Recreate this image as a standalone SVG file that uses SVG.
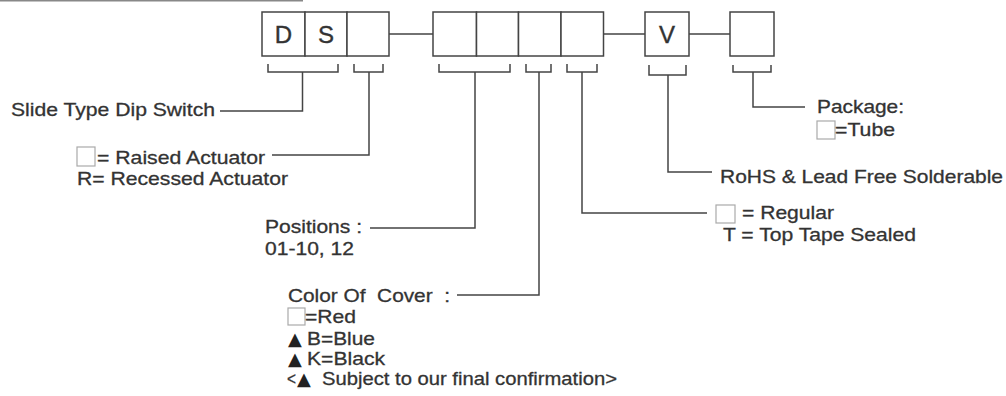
<svg xmlns="http://www.w3.org/2000/svg" width="1006" height="396" viewBox="0 0 1006 396">
<style>
.t{font-family:"Liberation Sans",Arial,sans-serif;font-size:18.5px;fill:#333;stroke:#333;stroke-width:0.3}
.big{font-family:"Liberation Sans",Arial,sans-serif;font-size:24px;fill:#333;stroke:#333;stroke-width:0.4;text-anchor:middle}
.tri{font-family:"DejaVu Sans",sans-serif;font-size:18px;fill:#222}
.box{fill:#fff;stroke:#444;stroke-width:1.5}
.ln{fill:none;stroke:#444;stroke-width:1.5}
.sq{fill:#fff;stroke:#aaa;stroke-width:1.2}
</style>
<rect width="1006" height="396" fill="#fff"/>
<rect x="0" y="0" width="303" height="1.5" fill="#888"/>
<g id="connectors">
<path class="ln" d="M389,34H433M603.5,34H645M689,34H730"/>
<path class="ln" d="M268,64V72H338V64M302.5,72V111H220"/>
<path class="ln" d="M354,64V72H383V64M369,72V155H272"/>
<path class="ln" d="M439,64V72H510V64M475,72V228H370"/>
<path class="ln" d="M526,64V72H551V64M539,72V295H457"/>
<path class="ln" d="M567,64V72H597V64M582,72V213H707"/>
<path class="ln" d="M649,65V75H686V65M668,75V172H712"/>
<path class="ln" d="M733,65V72H771V65M753,72V107H805"/>
</g>
<g id="box-D"><rect class="box" x="262" y="12" width="43" height="44"/><text class="big" x="283.5" y="43">D</text></g>
<g id="box-S"><rect class="box" x="305" y="12" width="42" height="44"/><text class="big" x="326" y="43">S</text></g>
<g id="box-actuator"><rect class="box" x="347" y="12" width="42" height="44"/></g>
<g id="box-pos1"><rect class="box" x="433" y="12" width="43.5" height="44"/></g>
<g id="box-pos2"><rect class="box" x="476.5" y="12" width="42" height="44"/></g>
<g id="box-color"><rect class="box" x="518.5" y="12" width="42.5" height="44"/></g>
<g id="box-seal"><rect class="box" x="561" y="12" width="42.5" height="44"/></g>
<g id="box-V"><rect class="box" x="645" y="12" width="44" height="44"/><text class="big" x="667" y="43">V</text></g>
<g id="box-package"><rect class="box" x="730" y="12" width="44" height="44"/></g>
<g id="label-slide"><text class="t" x="11" y="116" textLength="204" lengthAdjust="spacingAndGlyphs">Slide Type Dip Switch</text></g>
<g id="label-actuator">
<rect class="sq" x="77" y="147" width="18" height="19"/>
<text class="t" x="97" y="164" textLength="168" lengthAdjust="spacingAndGlyphs">= Raised Actuator</text>
<text class="t" x="77" y="185" textLength="211" lengthAdjust="spacingAndGlyphs">R= Recessed Actuator</text>
</g>
<g id="label-positions">
<text class="t" x="265" y="233" textLength="97" lengthAdjust="spacingAndGlyphs">Positions :</text>
<text class="t" x="265" y="255" textLength="89" lengthAdjust="spacingAndGlyphs">01-10, 12</text>
</g>
<g id="label-color">
<text class="t" x="288" y="302" xml:space="preserve" textLength="162" lengthAdjust="spacingAndGlyphs">Color Of  Cover  :</text>
<rect class="sq" x="288" y="308" width="17" height="17"/>
<text class="t" x="305" y="323" textLength="51" lengthAdjust="spacingAndGlyphs">=Red</text>
<text class="tri" x="288" y="345">▲</text>
<text class="t" x="307" y="345" textLength="68" lengthAdjust="spacingAndGlyphs">B=Blue</text>
<text class="tri" x="288" y="365">▲</text>
<text class="t" x="307" y="365" textLength="78" lengthAdjust="spacingAndGlyphs">K=Black</text>
<text class="t" x="287" y="385" textLength="9" lengthAdjust="spacingAndGlyphs">&lt;</text>
<text class="tri" x="297" y="385">▲</text>
<text class="t" x="322" y="385" textLength="295" lengthAdjust="spacingAndGlyphs">Subject to our final confirmation&gt;</text>
</g>
<g id="label-seal">
<rect class="sq" x="716" y="205" width="19" height="18"/>
<text class="t" x="742" y="219" textLength="92" lengthAdjust="spacingAndGlyphs">= Regular</text>
<text class="t" x="723" y="241" textLength="193" lengthAdjust="spacingAndGlyphs">T = Top Tape Sealed</text>
</g>
<g id="label-rohs"><text class="t" x="720" y="183" textLength="283" lengthAdjust="spacingAndGlyphs">RoHS &amp; Lead Free Solderable</text></g>
<g id="label-package">
<text class="t" x="817" y="113" textLength="87" lengthAdjust="spacingAndGlyphs">Package:</text>
<rect class="sq" x="817" y="121" width="18" height="18"/>
<text class="t" x="835" y="136" textLength="60" lengthAdjust="spacingAndGlyphs">=Tube</text>
</g>
</svg>
